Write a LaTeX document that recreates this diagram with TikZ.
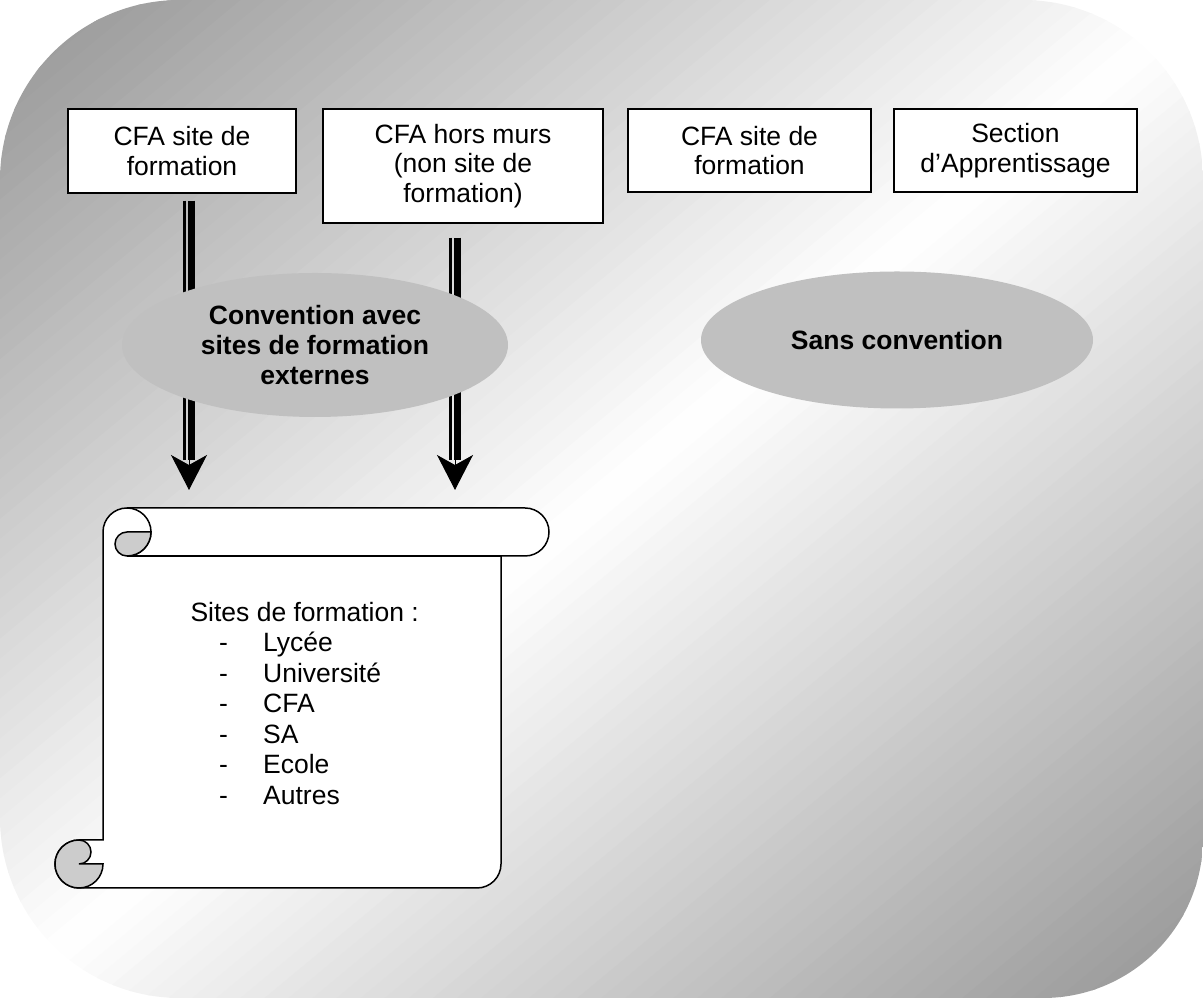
\documentclass[tikz,border=0pt]{standalone}
\usepackage{fontspec}
\setmainfont{Liberation Sans}
\usetikzlibrary{arrows.meta, calc, positioning, shapes.geometric}
\definecolor{bgdark}{RGB}{148,148,148}
\definecolor{ellgray}{RGB}{192,192,192}
\definecolor{curlgray}{RGB}{204,204,204}
\tikzset{
  bigfont/.style={font=\fontsize{26.5}{29.5}\selectfont},
  sitebox/.style={draw=black, line width=1.5pt, fill=white, bigfont, align=center, inner sep=0pt},
  convell/.style={ellipse, fill=ellgray, inner sep=0pt, font=\fontsize{26.5}{30}\selectfont\bfseries, align=center},
  shaftthin/.style={line width=2.5pt},
  shaftbold/.style={line width=7pt},
  headtip/.style={line width=1pt, -{Stealth[length=35pt, width=36pt, inset=10pt]}},
  scrollline/.style={draw=black, line width=1.5pt}
}

\begin{document}
\begin{tikzpicture}[x=1pt, y=1pt]
    \useasboundingbox (0,0) rectangle (1203,998);

    % Background, dark in two corners and white along the other diagonal
    \begin{scope}
        \clip (0,818) arc[start angle=180, end angle=90, radius=180] -- (1023,998)
            arc[start angle=90, end angle=0, radius=180] -- (1203,160)
            arc[start angle=0, end angle=-90, radius=160] -- (180,0)
            arc[start angle=-90, end angle=-180, radius=180] -- cycle;
        \foreach \k in {0,...,99} {
            \pgfmathsetmacro{\ca}{\k/50}
            \pgfmathsetmacro{\cb}{(\k+1.1)/50}
            \pgfmathsetmacro{\dk}{abs(99-2*\k)}
            \fill[bgdark!\dk!white] ({1203*(\ca+1)},1996) -- ({1203*(\cb+1)},1996)
                -- ({1203*(\cb-2)},-998) -- ({1203*(\ca-2)},-998) -- cycle;
        }
    \end{scope}

    % Top boxes
    \node[sitebox, minimum width=228pt, minimum height=84pt] (cfaSite) at (182,847) {CFA site de\\formation};
    \node[sitebox, minimum width=280pt, minimum height=114pt] (cfaHors) at (463,832) {CFA hors murs\\(non site de\\formation)};
    \node[sitebox, minimum width=243pt, minimum height=83pt] (cfaSiteB) at (749.5,847.5) {CFA site de\\formation};
    \node[sitebox, minimum width=243pt, minimum height=83pt] (sectionApp) at (1015.5,847.5) {Section\\d'Apprentissage};

    % Arrows down to the scroll
    \coordinate (scrollTop) at (0,508);
    \coordinate (a1s) at ([xshift=7pt, yshift=-7pt]cfaSite.south);
    \coordinate (a2s) at ([xshift=-8pt, yshift=-14pt]cfaHors.south);
    \coordinate (a1e) at (a1s |- scrollTop);
    \coordinate (a2e) at (a2s |- scrollTop);
    \foreach \s/\e in {a1s/a1e, a2s/a2e} {
        \draw[shaftthin] ([xshift=-4.5pt]\s) -- ([xshift=-4.5pt, yshift=30pt]\e);
        \draw[shaftbold] ([xshift=2.5pt]\s) -- ([xshift=2.5pt, yshift=30pt]\e);
        \draw[headtip] ([yshift=40pt]\e) -- (\e);
    }

    % Ellipses
    \node[convell, minimum width=386pt, minimum height=144pt] (convExt) at (315,653) {Convention avec\\sites de formation\\externes};
    \node[convell, minimum width=392pt, minimum height=137pt] (sansConv) at (897,658) {Sans convention};

    % Scroll
    \path[scrollline, fill=white] (127,490) -- (525,490) arc[start angle=90, end angle=-90, radius=24]
        -- (501,442) -- (501,134) arc[start angle=0, end angle=-90, radius=24]
        -- (79,110) arc[start angle=-90, end angle=-270, radius=24]
        -- (103,158) -- (103,466) arc[start angle=180, end angle=90, radius=24] -- cycle;
    \draw[scrollline] (501,442) -- (127,442);
    \draw[scrollline] (127,490) arc[start angle=90, end angle=-90, radius=24];
    \path[scrollline, fill=curlgray] (151,466) arc[start angle=0, end angle=-90, radius=24]
        arc[start angle=-90, end angle=-270, radius=12] -- cycle;
    \path[scrollline, fill=curlgray] (103,134) arc[start angle=0, end angle=-270, radius=24]
        arc[start angle=90, end angle=-90, radius=12] -- cycle;

    % Scroll text
    \node[bigfont, anchor=base west] (sitesTitle) at (187,376.5) {Sites de formation :};
    \foreach \lbl [count=\i] in {Lycée, Université, CFA, SA, Ecole, Autres} {
        \node[bigfont, anchor=base west, inner sep=0pt] at (219,376.5-30.5*\i) {-};
        \node[bigfont, anchor=base west, inner sep=0pt] at (263,376.5-30.5*\i) {\lbl};
    }
\end{tikzpicture}
\end{document}
